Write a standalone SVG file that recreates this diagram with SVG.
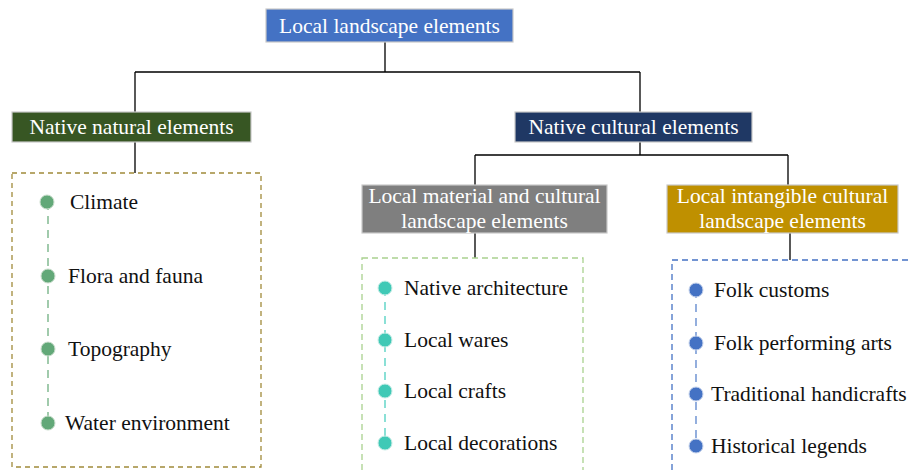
<svg xmlns="http://www.w3.org/2000/svg" width="911" height="470" viewBox="0 0 911 470">
<style>
.box{stroke:#C9C9C9;stroke-width:1.2}
text{font-family:"Liberation Serif","Times New Roman",serif;font-size:21.5px}
.w{fill:#ffffff;text-anchor:middle}
.k{fill:#111111}
.conn{stroke:#000;stroke-width:1.3;fill:none}
</style>
<rect width="911" height="470" fill="#fff"/>
<g id="connectors">
<path class="conn" d="M385 42V72M135 72H640M135 72V112M640 72V112M135 142V173M640 142V155M475 155H788M475 155V185M788 155V185M475 233V258M790 233V260"/>
</g>
<g id="root"><rect class="box" x="266" y="9" width="247" height="33" fill="#4472C4"/><text class="w" x="389.5" y="33">Local landscape elements</text></g>
<g id="natural"><rect class="box" x="12" y="112" width="239" height="30" fill="#375623"/><text class="w" x="131.5" y="134">Native natural elements</text></g>
<g id="cultural"><rect class="box" x="515" y="112" width="237" height="30" fill="#1F3864"/><text class="w" x="633.5" y="134">Native cultural elements</text></g>
<g id="material"><rect class="box" x="362" y="185" width="245" height="48" fill="#7F7F7F"/><text class="w" x="484.5" y="203">Local material and cultural</text><text class="w" x="484.5" y="228">landscape elements</text></g>
<g id="intangible"><rect class="box" x="667" y="185" width="231" height="48" fill="#BF9000"/><text class="w" x="782.5" y="203">Local intangible cultural</text><text class="w" x="782.5" y="228">landscape elements</text></g>
<g id="natural-list">
<rect x="12" y="173" width="249" height="294" fill="none" stroke="#A08A3A" stroke-width="1.3" stroke-dasharray="5,4"/>
<path d="M48 202V423" stroke="#6FAF80" stroke-width="1.3" stroke-dasharray="8,6"/>
<g fill="#62A878" stroke="#C9DDCC" stroke-width="1"><circle cx="47" cy="202" r="7"/><circle cx="48" cy="276" r="7"/><circle cx="48" cy="349" r="7"/><circle cx="48" cy="423" r="7"/></g>
<text class="k" x="70" y="209">Climate</text>
<text class="k" x="68" y="283">Flora and fauna</text>
<text class="k" x="68" y="356">Topography</text>
<text class="k" x="65" y="430">Water environment</text>
</g>
<g id="material-list">
<rect x="362" y="258" width="221" height="220" fill="none" stroke="#A9D18E" stroke-width="1.3" stroke-dasharray="6,4"/>
<path d="M385 288V443" stroke="#4DD0C0" stroke-width="1.3" stroke-dasharray="8,6"/>
<g fill="#40C9B6" stroke="#C8EDE7" stroke-width="1"><circle cx="385" cy="288" r="7"/><circle cx="385" cy="340" r="7"/><circle cx="385" cy="391" r="7"/><circle cx="385" cy="443" r="7"/></g>
<text class="k" x="404" y="295">Native architecture</text>
<text class="k" x="404" y="347">Local wares</text>
<text class="k" x="404" y="398">Local crafts</text>
<text class="k" x="404" y="450">Local decorations</text>
</g>
<g id="intangible-list">
<rect x="672" y="260" width="260" height="220" fill="none" stroke="#4472C4" stroke-width="1.3" stroke-dasharray="6,4"/>
<path d="M696 290V446" stroke="#5B84CC" stroke-width="1.3" stroke-dasharray="8,6"/>
<g fill="#4472C4" stroke="#C6D3EC" stroke-width="1"><circle cx="696" cy="290" r="7"/><circle cx="696" cy="343" r="7"/><circle cx="696" cy="394" r="7"/><circle cx="696" cy="446" r="7"/></g>
<text class="k" x="714" y="297">Folk customs</text>
<text class="k" x="714" y="350">Folk performing arts</text>
<text class="k" x="711" y="401">Traditional handicrafts</text>
<text class="k" x="711" y="453">Historical legends</text>
</g>
</svg>
